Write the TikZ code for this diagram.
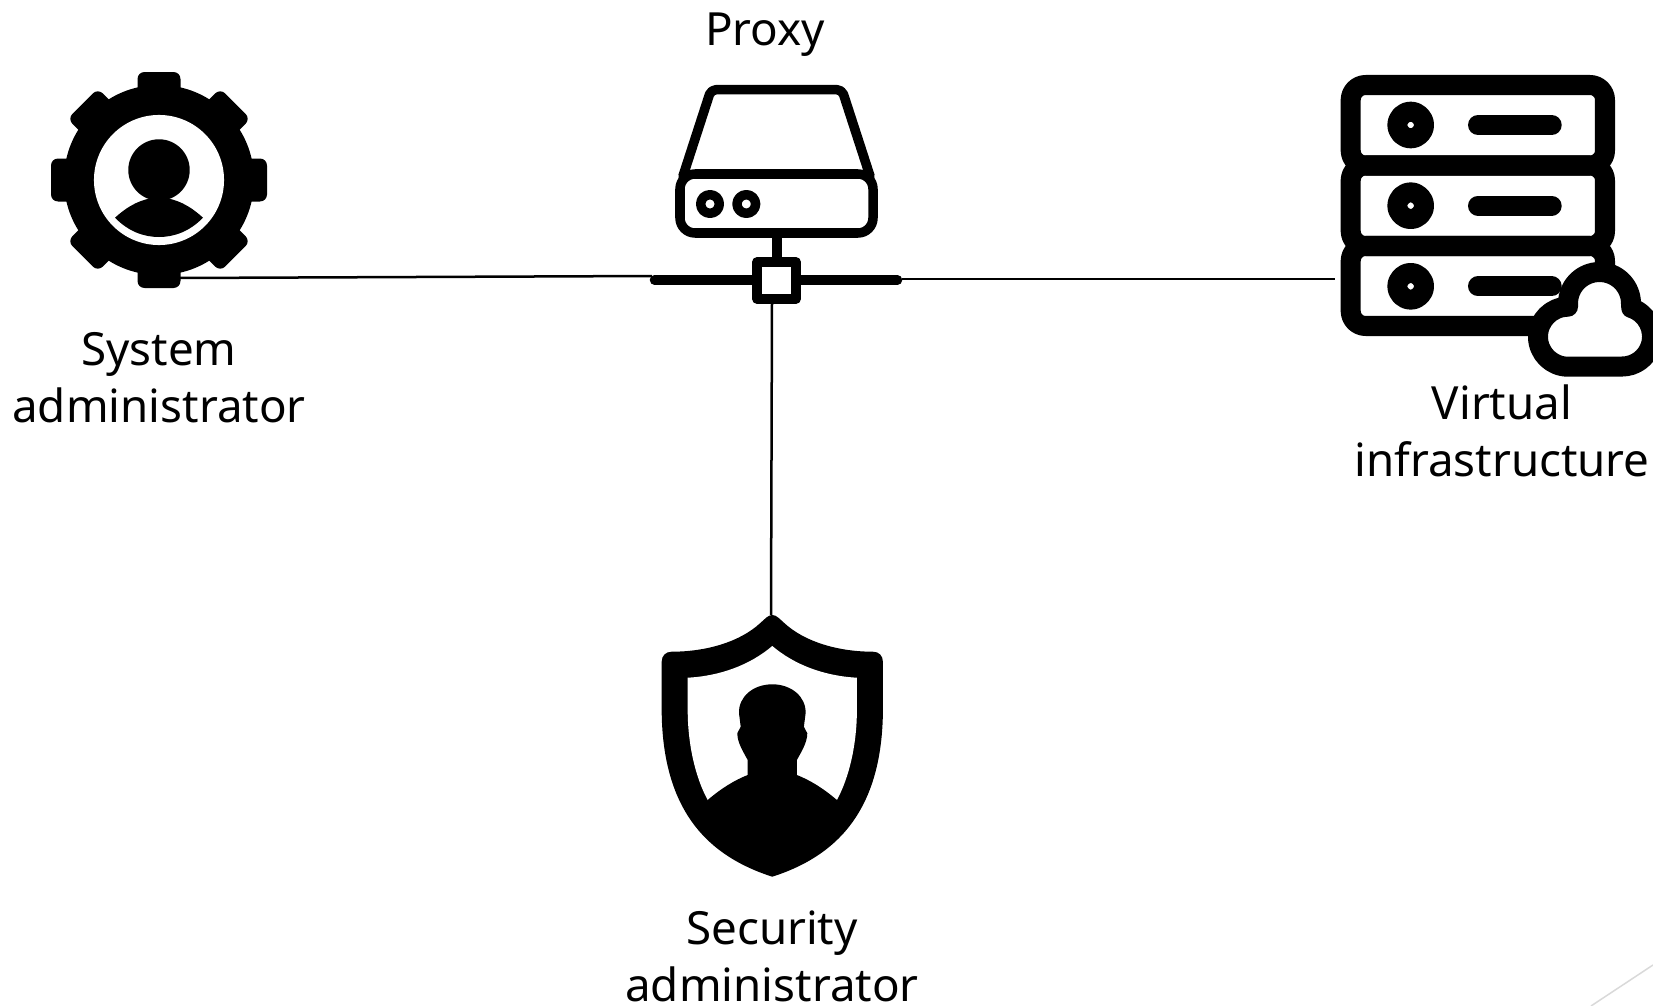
\documentclass[tikz,border=0pt]{standalone}
\usepackage{fontspec}
\setmainfont{Noto Sans}
\tikzset{
  iconline/.style={line width=0.095cm, line cap=round, line join=round},
  rackline/.style={line width=0.2cm, line cap=round, line join=round},
  wire/.style={line width=0.025cm},
  caption/.style={align=center, inner sep=0pt, font=\fontsize{13}{16.2}\selectfont}
}
\begin{document}
\begin{tikzpicture}[x=0.01cm, y=-0.01cm]
\useasboundingbox (0,0) rectangle (1653,1006);

% Connector ends
\coordinate (gearfoot) at (180,278);
\coordinate (busleft) at (652,276);
\coordinate (busright) at (902,279);
\coordinate (rackport) at (1335,279);
\coordinate (boxfoot) at (772,304);
\coordinate (shieldtip) at (771,615);

% Connectors
\draw[wire] (gearfoot) -- (busleft);
\draw[wire] (busright) -- (rackport);
\draw[wire] (boxfoot) -- (shieldtip);

% System administrator
\foreach \a in {0,45,...,315}
  \fill[rounded corners=0.07cm, rotate around={\a:(159,180)}] (137.5,72) rectangle (180.5,120);
\fill (159,180) circle[radius=0.95cm];
\fill[white] (159,180) circle[radius=0.65cm];
\fill (159,170) circle[radius=0.307cm];
\fill (115,217.7) .. controls (128,206) and (140,199) .. (159,197) .. controls (178,199) and (190,206) .. (203,217.7) .. controls (190,231) and (175,237) .. (159,237) .. controls (143,237) and (128,231) .. (115,217.7) -- cycle;
\node[caption] (sysname) at (159,378) {System\\administrator};

% Proxy
\draw[iconline, rounded corners=0.05cm] (683,176) -- (711,89.7) -- (842,89.7) -- (870,176);
\draw[iconline, rounded corners=0.15cm] (680,174) rectangle (873,233);
\draw[iconline] (710,204) circle[radius=0.093cm];
\draw[iconline] (746.3,204) circle[radius=0.093cm];
\draw[iconline] (777,233) -- (777,261);
\draw[iconline] (654.5,280) -- (897.5,280);
\draw[iconline, fill=white, line cap=butt] (757,262) rectangle (796,299);
\node[caption] (proxyname) at (765,35) {Proxy};

% Virtual infrastructure
\draw[rackline, rounded corners=0.15cm] (1350.7,85) rectangle (1605,165.5);
\draw[rackline, rounded corners=0.15cm] (1350.7,165.5) rectangle (1605,246);
\draw[rackline, rounded corners=0.15cm] (1350.7,246) rectangle (1605,326);
\foreach \y in {125,205.7,286.3} {
  \draw[rackline] (1410.7,\y) circle[radius=0.133cm];
  \draw[rackline] (1478,\y) -- (1551.7,\y);
}
\draw[rackline, fill=white] (1568,366.7) arc[start angle=90, end angle=270, radius=30] -- (1568,303.5) arc[start angle=180, end angle=360, radius=31.5] -- (1631.3,308) arc[start angle=-72, end angle=90, radius=30] -- cycle;
\node[caption] (infraname) at (1502,431) {Virtual\\infrastructure};

% Security administrator
\fill (760,623.3) .. controls (765,619) and (768,615) .. (772.3,615) .. controls (776.6,615) and (779.6,619) .. (784.6,623.3) .. controls (804.6,641.7) and (837.9,651.7) .. (872.9,651.7) .. controls (878.9,651.7) and (882.9,655.7) .. (882.9,661.7) -- (882.9,713.3) .. controls (881.3,813.3) and (834.6,856.7) .. (772.3,876.7) .. controls (710,856.7) and (663.3,813.3) .. (661.7,713.3) -- (661.7,661.7) .. controls (661.7,655.7) and (665.7,651.7) .. (671.7,651.7) .. controls (706.7,651.7) and (740,641.7) .. (760,623.3) -- cycle;
\fill[white] (772.3,646) .. controls (750,665) and (720,676) .. (687.7,677.7) -- (687.7,710) .. controls (687.7,743.3) and (695,776.7) .. (707.7,800) -- (836.9,800) .. controls (849.6,776.7) and (856.9,743.3) .. (856.9,710) -- (856.9,677.7) .. controls (824.6,676) and (794.6,665) .. (772.3,646) -- cycle;
\fill (707.7,800) .. controls (721.7,788) and (735,780) .. (747.7,775) -- (747.7,760) .. controls (744,753) and (737.3,743) .. (737.3,733.3) -- (740.7,726.7) -- (739,713.3) .. controls (738.3,696.7) and (753.3,684.3) .. (772.3,684.3) .. controls (791.3,684.3) and (806.3,696.7) .. (805.6,713.3) -- (803.9,726.7) -- (807.3,733.3) .. controls (807.3,743) and (800.6,753) .. (796.9,760) -- (796.9,775) .. controls (809.6,780) and (822.9,788) .. (836.9,800) -- (836.9,812) -- (707.7,812) -- cycle;
\node[caption] (secname) at (772,956) {Security\\administrator};

% Slide corner
\coordinate (cornerlow) at (1591,1006);
\coordinate (cornerhigh) at (1653,965);
\draw[line width=0.015cm, black!15] (cornerlow) -- (cornerhigh);

\end{tikzpicture}
\end{document}
